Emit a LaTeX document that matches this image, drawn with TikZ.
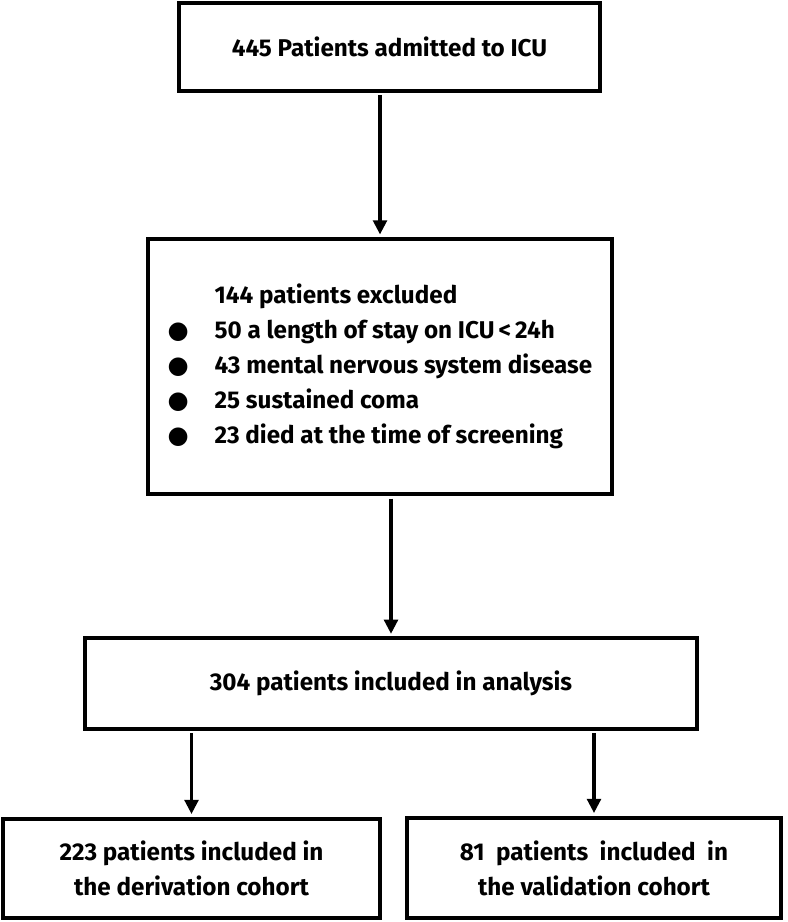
\documentclass[tikz,border=0pt]{standalone}
\usepackage{fontspec}
\setmainfont{Fira Sans}
\newfontfamily\dotfont{DejaVu Sans}
\usepackage{array}
\usetikzlibrary{arrows.meta}
\newcommand{\itemdot}{{\dotfont ●}}

\begin{document}
\begin{tikzpicture}[x=0.02cm,y=-0.02cm,
  box/.style={draw, line width=1.8pt, inner sep=0pt, align=center, font=\fontsize{13.8}{20}\selectfont\bfseries},
  flow/.style={>={Triangle[width=7.8pt,length=8pt]},->,line width=1.8pt,shorten <=1.5pt,shorten >=1.5pt}]
\useasboundingbox (0,0) rectangle (787,922);
\node[box, minimum width=8.42cm, minimum height=1.76cm] (admit) at (389.5,47) {445 Patients admitted to ICU};
\node[box, line width=2.2pt, minimum width=9.28cm, minimum height=5.1cm] (excl) at (380,366.5) {%
\begin{tabular}{@{}p{0.94cm}@{}l@{}}
 & 144 patients excluded\\
\itemdot & 50 a length of stay on ICU\,<\,24h\\
\itemdot & 43 mental nervous system disease\\
\itemdot & 25 sustained coma\\
\itemdot & 23 died at the time of screening
\end{tabular}};
\node[box, minimum width=12.24cm, minimum height=1.82cm] (incl) at (391,683.5) {304 patients included in analysis};
\node[box, line width=2.7pt, minimum width=7.54cm, minimum height=1.98cm] (deriv) at (191.5,868.5) {223 patients included in\\the derivation cohort};
\node[box, line width=2.7pt, minimum width=7.48cm, minimum height=2cm] (valid) at (594,868) {81~ patients~ included~ in\\the validation cohort};
\draw[flow] (admit.south -| excl.north) -- (excl.north);
\draw[flow] (excl.south -| incl.north) -- (incl.north);
\draw[flow] (incl.south -| deriv.north) -- (deriv.north);
\draw[flow] (incl.south -| valid.north) -- (valid.north);
\end{tikzpicture}
\end{document}
